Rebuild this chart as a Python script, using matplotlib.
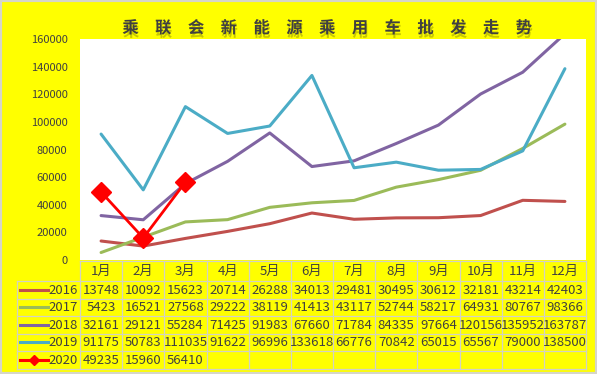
import matplotlib
matplotlib.use('Agg')
import matplotlib.pyplot as plt
from matplotlib.patches import Rectangle
import matplotlib.patheffects as pe

plt.rcParams['font.family'] = ['Noto Sans CJK SC', 'DejaVu Sans']

title = '乘联会新能源乘用车批发走势'
months = ['1月', '2月', '3月', '4月', '5月', '6月', '7月', '8月', '9月', '10月', '11月', '12月']
years = ['2016', '2017', '2018', '2019', '2020']
s2016 = [13748, 10092, 15623, 20714, 26288, 34013, 29481, 30495, 30612, 32181, 43214, 42403]
s2017 = [5423, 16521, 27568, 29222, 38119, 41413, 43117, 52744, 58217, 64931, 80767, 98366]
s2018 = [32161, 29121, 55284, 71425, 91983, 67660, 71784, 84335, 97664, 120156, 135952, 163787]
s2019 = [91175, 50783, 111035, 91622, 96996, 133618, 66776, 70842, 65015, 65567, 79000, 138500]
s2020 = [49235, 15960, 56410]
yticks = [0, 20000, 40000, 60000, 80000, 100000, 120000, 140000, 160000]

series = [s2016, s2017, s2018, s2019, s2020]
colors = ['#c0504d', '#9bbb59', '#8064a2', '#4bacc6', '#ff0000']

W, H = 597, 374
fig = plt.figure(figsize=(W / 100, H / 100), dpi=100, facecolor='#ffff00')

L, R, T, B = 80, 586, 39, 260
ax = fig.add_axes([L / W, 1 - B / H, (R - L) / W, (B - T) / H])
ax.set_facecolor('white')
for sp in ax.spines.values():
    sp.set_visible(False)

for vals, c, yr in zip(series, colors, years):
    if yr == '2020':
        ax.plot(range(len(vals)), vals, color=c, lw=2.0, marker='D', markersize=10.5,
                solid_joinstyle='round', zorder=5)
    else:
        ax.plot(range(len(vals)), vals, color=c, lw=2.2, solid_joinstyle='round',
                solid_capstyle='round')

ax.set_xlim(-0.5, 11.5)
ax.set_ylim(0, 160000)
ax.set_xticks([])
ax.set_yticks(yticks)
ax.set_yticklabels([str(v) for v in yticks], fontsize=8, color='#404040')
ax.tick_params(axis='y', length=0, pad=9)

# table overlay
tax = fig.add_axes([0, 0, 1, 1])
tax.set_xlim(0, W)
tax.set_ylim(H, 0)
tax.axis('off')

col_w = (R - L) / 12
rows = [261, 281, 298.5, 316, 333.5, 351, 368.5]
gc = '#d2d2c4'
lx = 17
tax.plot([L, R], [rows[0], rows[0]], color=gc, lw=0.9)
for y in rows[1:]:
    tax.plot([lx, R], [y, y], color=gc, lw=0.9)
for i in range(13):
    x = L + i * col_w
    tax.plot([x, x], [rows[0], rows[-1]], color=gc, lw=0.9)
tax.plot([lx, lx], [rows[1], rows[-1]], color=gc, lw=0.9)

tc = '#404040'
for i, m in enumerate(months):
    tax.text(L + (i + 0.5) * col_w, (rows[0] + rows[1]) / 2 + 0.5, m, ha='center', va='center',
             fontsize=9.5, color=tc)

for r, (vals, c, yr) in enumerate(zip(series, colors, years)):
    yc = (rows[r + 1] + rows[r + 2]) / 2
    tax.plot([20, 48], [yc, yc], color=c, lw=2.2)
    if yr == '2020':
        tax.plot([34], [yc], color=c, marker='D', markersize=5)
    tax.text(48.5, yc + 0.5, yr, ha='left', va='center', fontsize=9.5, color=tc)
    for i, v in enumerate(vals):
        tax.text(L + (i + 0.5) * col_w, yc + 0.5, str(v), ha='center', va='center',
                 fontsize=9.5, color=tc)

fig.text(327 / W, 1 - 28 / H, '\u3000'.join(title), ha='center', va='center',
         fontsize=11.8, fontweight='bold', color='#404040',
         path_effects=[pe.withSimplePatchShadow(offset=(0.5, -2.5), shadow_rgbFace='#606000',
                                                alpha=0.35)])

fig.patches.append(Rectangle((0, 0), 1, 1, transform=fig.transFigure, fill=False,
                             edgecolor='#d6d6c8', lw=3))

fig.savefig('out.png', dpi=100, facecolor=fig.get_facecolor())
